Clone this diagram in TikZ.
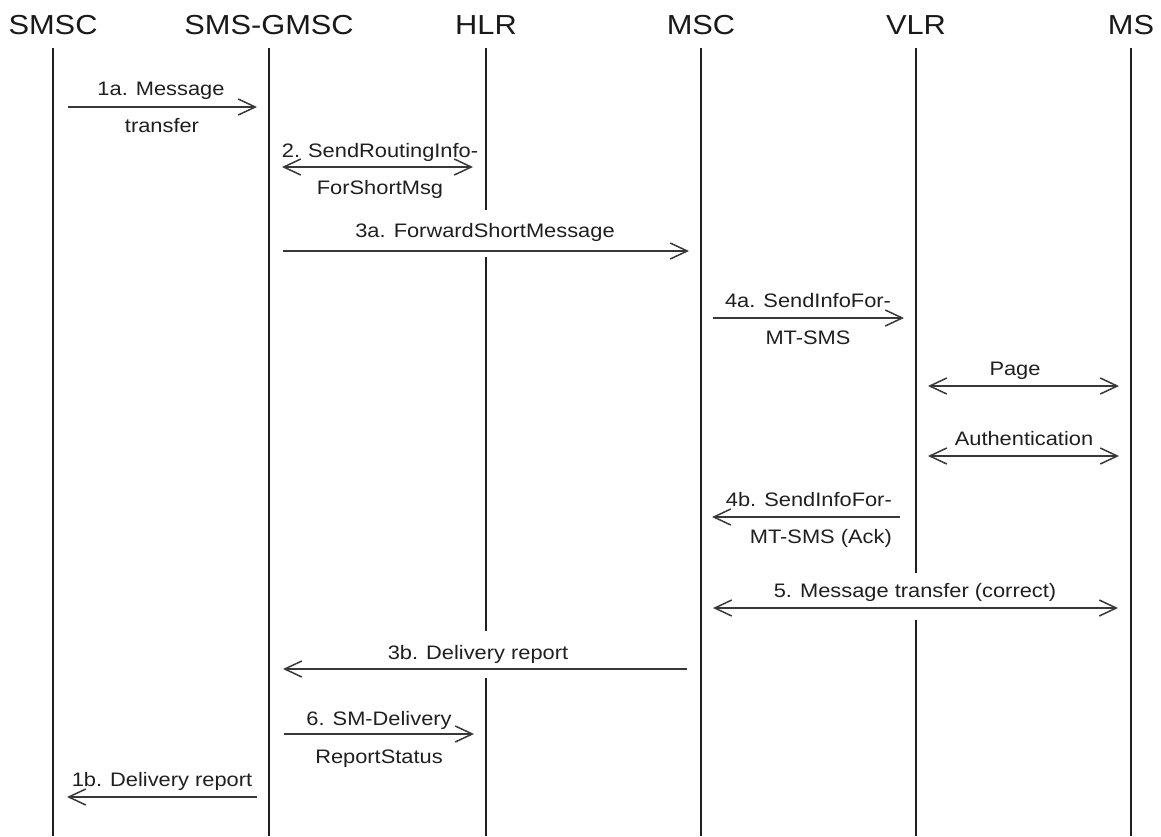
\documentclass[tikz,border=0pt]{standalone}
\usepackage{fontspec}
\usepackage{graphicx}
\setmainfont{Liberation Sans}
\usetikzlibrary{arrows.meta}

% slightly widened lettering
\newcommand{\wtext}[1]{\scalebox{1.12}[1]{#1}}

\tikzset{
  hdr/.style={anchor=base, inner sep=0pt, text=black!90,
              font=\fontsize{27.5}{30}\selectfont},
  msg/.style={anchor=base, inner sep=0pt, text=black!88,
              font=\fontsize{19.5}{22}\selectfont},
  lifeline/.style={line width=2.4pt, black!88},
  sig/.style={line width=1.5pt, black!78,
              -{Straight Barb[length=17pt,width=16pt,line width=1.5pt]}},
  sigboth/.style={line width=1.5pt, black!78,
              {Straight Barb[length=17pt,width=16pt,line width=1.5pt]}-{Straight Barb[length=17pt,width=16pt,line width=1.5pt]}},
}

\begin{document}
\begin{tikzpicture}[x=1pt, y=-1pt]
\useasboundingbox (0,0) rectangle (1161,836);

% entity headings
\node[hdr] (smsc) at (53,34)   {\wtext{SMSC}};
\node[hdr] (gmsc) at (269,34)  {\wtext{SMS-GMSC}};
\node[hdr] (hlr)  at (486,34)  {\wtext{HLR}};
\node[hdr] (msc)  at (701,34)  {\wtext{MSC}};
\node[hdr] (vlr)  at (916,34)  {\wtext{VLR}};
\node[hdr] (ms)   at (1131,34) {\wtext{MS}};

% lifelines (HLR and VLR are broken where labels cross them)
\draw[lifeline] (53,48)   -- (53,836);
\draw[lifeline] (269,48)  -- (269,836);
\draw[lifeline] (486,48)  -- (486,210);
\draw[lifeline] (486,257) -- (486,631);
\draw[lifeline] (486,678) -- (486,836);
\draw[lifeline] (701,48)  -- (701,836);
\draw[lifeline] (916,48)  -- (916,573);
\draw[lifeline] (916,620) -- (916,836);
\draw[lifeline] (1131,48) -- (1131,836);

% message end points
\coordinate (a1s) at (68,107);   \coordinate (a1e) at (257,107);
\coordinate (a2s) at (282,167);  \coordinate (a2e) at (473,167);
\coordinate (a3s) at (283,251);  \coordinate (a3e) at (689,251);
\coordinate (a4s) at (713,318);  \coordinate (a4e) at (904,318);
\coordinate (pgs) at (928,386);  \coordinate (pge) at (1119,386);
\coordinate (aus) at (928,456);  \coordinate (aue) at (1119,456);
\coordinate (b4s) at (900,517);  \coordinate (b4e) at (712,517);
\coordinate (m5s) at (713,608);  \coordinate (m5e) at (1118,608);
\coordinate (b3s) at (687,669);  \coordinate (b3e) at (283,669);
\coordinate (m6s) at (284,734);  \coordinate (m6e) at (474,734);
\coordinate (b1s) at (257,797);  \coordinate (b1e) at (67,797);

% messages
\draw[sig]     (a1s) -- (a1e);
\draw[sigboth] (a2s) -- (a2e);
\draw[sig]     (a3s) -- (a3e);
\draw[sig]     (a4s) -- (a4e);
\draw[sigboth] (pgs) -- (pge);
\draw[sigboth] (aus) -- (aue);
\draw[sig]     (b4s) -- (b4e);
\draw[sigboth] (m5s) -- (m5e);
\draw[sig]     (b3s) -- (b3e);
\draw[sig]     (m6s) -- (m6e);
\draw[sig]     (b1s) -- (b1e);

% message labels
\node[msg] (l1a)  at (161,95)  {\wtext{1a. Message}};
\node[msg] (l1a2) at (162,132) {\wtext{transfer}};
\node[msg] (l2)   at (380,157) {\wtext{2. SendRoutingInfo-}};
\node[msg] (l22)  at (380,194) {\wtext{ForShortMsg}};
\node[msg] (l3a)  at (485,237) {\wtext{3a. ForwardShortMessage}};
\node[msg] (l4a)  at (808,307) {\wtext{4a. SendInfoFor-}};
\node[msg] (l4a2) at (808,344) {\wtext{MT-SMS}};
\node[msg] (lpg)  at (1015,375) {\wtext{Page}};
\node[msg] (lau)  at (1024,445) {\wtext{Authentication}};
\node[msg, anchor=base east] (l4b)  at (892,506) {\wtext{4b. SendInfoFor-}};
\node[msg, anchor=base east] (l4b2) at (892,543) {\wtext{MT-SMS (Ack)}};
\node[msg] (l5)   at (915,597) {\wtext{5. Message transfer (correct)}};
\node[msg] (l3b)  at (478,659) {\wtext{3b. Delivery report}};
\node[msg] (l6)   at (379,725) {\wtext{6. SM-Delivery}};
\node[msg] (l62)  at (379,763) {\wtext{ReportStatus}};
\node[msg] (l1b)  at (162,786) {\wtext{1b. Delivery report}};
\end{tikzpicture}
\end{document}
